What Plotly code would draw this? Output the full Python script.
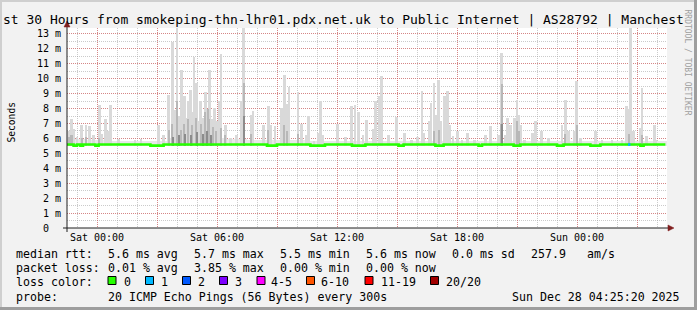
import plotly.graph_objects as go

# ------------------------------------------------------------------ data
title_text = "st 30 Hours from smokeping-thn-lhr01.pdx.net.uk to Public Internet | AS28792 | Manchest"
y_axis_title = "Seconds"
watermark = "RRDTOOL / TOBI OETIKER"

# time axis in hours relative to Sat 00:00
x_tick_hours = [0, 6, 12, 18, 24]
x_tick_labels = ["Sat 00:00", "Sat 06:00", "Sat 12:00", "Sat 18:00", "Sun 00:00"]
y_tick_values = [0, 1, 2, 3, 4, 5, 6, 7, 8, 9, 10, 11, 12, 13]
y_tick_labels = ["0\u00a0\u00a0", "1 m", "2 m", "3 m", "4 m", "5 m", "6 m", "7 m",
                 "8 m", "9 m", "10 m", "11 m", "12 m", "13 m"]

# median rtt (ms), step line
med_t = [-1.5, -1.17, -1.0, -0.83, -0.7, -0.08, 0.08, 2.67, 3.33, 8.5, 9.0, 10.67, 11.4,
         12.75, 13.42, 15.08, 15.33, 16.92, 17.33, 19.08, 19.25, 20.83, 21.17, 23.0, 23.33,
         24.67, 25.17, 27.17, 27.33, 28.42]
med_v = [5.59, 5.52, 5.59, 5.52, 5.59, 5.52, 5.59, 5.52, 5.59, 5.52, 5.59, 5.52, 5.59,
         5.52, 5.59, 5.52, 5.59, 5.52, 5.59, 5.52, 5.59, 5.52, 5.59, 5.52, 5.59,
         5.52, 5.59, 5.52, 5.59, 5.59]
# one interval with 1/20 loss (blue)
loss1_t = [26.55, 26.67]
loss1_v = [5.59, 5.59]

# faint smoke band just above the median, hourly
band_t = [-1, 0, 1, 2, 3, 4, 5, 6, 7, 8, 9, 10, 11, 12, 13, 14, 15, 16, 17, 18, 19,
          20, 21, 22, 23, 24, 25, 26, 27, 28]
band_top = [5.95, 5.9, 5.85, 5.8, 5.85, 6.05, 6.1, 6.0, 5.95, 5.9, 5.9, 5.9, 5.85, 5.8,
            5.85, 5.85, 5.85, 5.8, 5.85, 5.85, 5.8, 5.85, 5.85, 5.8, 5.8, 5.85, 5.8, 5.8,
            5.85, 5.85]

# smoke spikes: outer (max ping) level
light_t = [-1.42, -1.27, -1.15, -1.0, -0.77, -0.55, -0.38, -0.17, 0.12, 0.25, 0.43, 0.57,
           0.67, 1.08, 1.9, 2.2, 3.08, 3.33, 3.58, 3.77, 3.9, 4.0, 4.1, 4.23, 4.37, 4.47,
           4.57, 4.67, 4.75, 4.85, 4.97, 5.05, 5.18, 5.3, 5.42, 5.52, 5.62, 5.75, 5.87,
           5.97, 6.05, 6.12, 6.2, 6.42, 6.67, 6.97, 7.23, 7.33, 7.7, 7.8, 8.33,
           8.57, 8.68, 8.9, 9.22, 9.37, 9.48, 9.6, 10.05, 10.23, 10.47, 10.58, 10.85,
           11.07, 11.17, 11.28, 12.03, 12.43, 12.73, 12.9, 13.07, 13.3, 13.48, 13.83,
           13.93, 14.12, 14.22, 14.57, 14.97, 15.37, 15.72, 16.02, 16.25, 16.35, 16.6,
           16.7, 16.85, 16.97, 17.08, 17.17, 17.37, 17.52, 17.62, 17.8, 18.02, 18.25,
           18.53, 18.87, 19.42, 19.67, 20.08, 20.23, 20.4, 20.52, 20.68, 20.88, 21.0,
           21.08, 21.2, 21.37, 21.78, 21.92, 22.23, 22.57, 23.25, 23.42, 23.58, 23.85,
           23.98, 24.18, 24.92, 25.25, 25.75, 26.25, 26.47, 26.58, 26.67, 26.83, 27.17,
           27.25, 27.47, 27.87, 27.95]
light_top = [6.5, 7.33, 6.66, 6.1, 6.93, 6.93, 6.84, 6.2, 8.27, 6.3, 7.33, 6.48,
             8.27, 5.95, 5.9, 5.95, 6.93, 6.2, 8.93, 12.46, 7.9, 13.6, 7.5, 10.61, 8.82, 7.4,
             8.53, 9.27, 7.8, 11.46, 9.72, 7.2, 8.49, 7.4, 9.1, 8.0, 10.61, 7.3, 8.04,
             7.2, 7.0, 8.49, 11.66, 6.93, 6.0, 6.26, 8.49, 13.6, 7.6, 7.82, 6.93,
             8.2, 6.93, 6.84, 8.04, 10.27, 8.3, 9.43, 9.11, 6.97, 6.26, 7.48, 5.8,
             6.37, 8.53, 6.26, 7.0, 6.1, 8.15, 8.27, 7.77, 6.26, 7.26, 6.66,
             8.49, 8.82, 10.16, 6.26, 7.47, 6.37, 5.9, 6.1, 9.16, 6.37, 7.15,
             8.38, 9.72, 7.6, 9.94, 7.15, 8.82, 9.2, 6.93, 6.15, 6.48, 5.9,
             6.37, 5.9, 6.26, 6.84, 6.26, 11.73, 6.26, 7.36, 6.93, 7.36, 8.6,
             7.6, 6.93, 5.9, 6.37, 7.2, 6.48, 6.05, 6.93, 8.6, 6.48, 6.48,
             9.83, 6.05, 6.48, 5.9, 5.9, 5.9, 8.2, 8.0, 13.6, 6.48, 6.7,
             9.4, 6.15, 6.93, 5.9]

# smoke spikes: inner (darker) level
dark_t = [-1.42, -1.27, -0.77, -0.55, 0.12, 3.6, 3.77, 4.0, 4.2, 4.37, 4.57, 4.75, 4.97,
          5.18, 5.42, 5.55, 5.62, 5.8, 5.95, 6.2, 6.42, 7.33, 7.7, 8.57, 9.37, 9.48,
          10.05, 16.85, 17.08, 20.18, 20.23, 21.0, 21.08, 23.42, 23.98, 26.58, 27.25]
dark_top = [6.1, 6.2, 6.0, 6.1, 6.0, 6.6, 7.0, 8.5, 6.6, 7.0, 7.3, 6.9, 7.4,
            7.0, 7.8, 8.0, 7.3, 6.8, 6.5, 6.7, 6.2, 9.7, 6.3, 6.6, 6.9, 6.5,
            6.3, 6.5, 6.6, 7.0, 9.65, 7.2, 6.5, 6.3, 6.9, 6.3, 6.2]

# smoke core (darkest)
core_t = [3.8, 4.1, 4.4, 4.7, 5.0, 5.3, 5.5, 5.7, 7.33, 20.23]
core_top = [6.1, 6.2, 6.3, 6.2, 6.4, 6.3, 6.5, 6.2, 7.5, 7.0]

smoke_base = 5.52

# legend texts
rtt_label = "median rtt:"
rtt_items = ["5.6 ms avg", "5.7 ms max", "5.5 ms min", "5.6 ms now", "0.0 ms sd", "257.9", "am/s"]
loss_label = "packet loss:"
loss_items = ["0.01 % avg", "3.85 % max", "0.00 % min", "0.00 % now"]
lc_label = "loss color:"
lc_names = ["0", "1", "2", "3", "4-5", "6-10", "11-19", "20/20"]
lc_colors = ["#26ff00", "#00b8ff", "#0059ff", "#7e00ff", "#ff00ff", "#ff5500", "#ff0000", "#a10000"]
probe_label = "probe:"
probe_text = "20 ICMP Echo Pings (56 Bytes) every 300s"
stamp_text = "Sun Dec 28 04:25:20 2025"

# ------------------------------------------------------------------ layout constants
W, H = 697, 310
L, R, T, B = 67, 30, 28, 82
PW, PH = W - L - R, H - T - B
MONO = "DejaVu Sans Mono"


def px(x):
    return (x - L) / PW


def py(y):
    return (H - B - y) / PH


fig = go.Figure()

fig.add_trace(go.Bar(x=band_t, y=[v - smoke_base for v in band_top], base=smoke_base,
                     width=1.0, marker=dict(color="#e8e8e8", line=dict(width=0)),
                     hoverinfo="skip"))
fig.add_trace(go.Bar(x=light_t, y=[v - smoke_base for v in light_top], base=smoke_base,
                     width=0.12, marker=dict(color="#d9d9d9", line=dict(width=0)),
                     hoverinfo="skip"))
fig.add_trace(go.Bar(x=dark_t, y=[v - smoke_base for v in dark_top], base=smoke_base,
                     width=0.1, marker=dict(color="#b8b8b8", line=dict(width=0)),
                     hoverinfo="skip"))
fig.add_trace(go.Bar(x=core_t, y=[v - smoke_base for v in core_top], base=smoke_base,
                     width=0.1, marker=dict(color="#8c8c8c", line=dict(width=0)),
                     hoverinfo="skip"))
fig.add_trace(go.Scatter(x=med_t, y=med_v, mode="lines", line=dict(color=lc_colors[0], width=2.6, shape="hv"),
                         hoverinfo="skip"))
fig.add_trace(go.Scatter(x=loss1_t, y=loss1_v, mode="lines", line=dict(color=lc_colors[1], width=2.6),
                         hoverinfo="skip"))

grid_red = "rgba(222,79,79,0.55)"
grid_gray = "rgba(160,160,160,0.55)"

major_x = [0, 3, 6, 9, 12, 15, 18, 21, 24, 27]
fig.update_xaxes(range=[-1.5, 28.5], tickmode="array", tickvals=major_x,
                 ticktext=[x_tick_labels[x_tick_hours.index(h)] if h in x_tick_hours else "" for h in major_x],
                 showgrid=True, gridcolor=grid_red, gridwidth=1, griddash="1px,1px",
                 minor=dict(tick0=0, dtick=1, showgrid=True, gridcolor=grid_gray, gridwidth=1, griddash="1px,1px"),
                 zeroline=False, showline=False, ticks="",
                 tickfont=dict(family=MONO, size=10, color="black"), ticklabelstandoff=2)
fig.update_yaxes(range=[0, PH / 14.925], tickmode="array", tickvals=y_tick_values, ticktext=y_tick_labels,
                 showgrid=True, gridcolor=grid_red, gridwidth=1, griddash="1px,1px",
                 minor=dict(tick0=0, dtick=0.5, showgrid=True, gridcolor=grid_gray, gridwidth=1, griddash="1px,1px"),
                 zeroline=False, showline=False, ticks="",
                 tickfont=dict(family=MONO, size=10, color="black"), ticklabelstandoff=5)

shapes = []
# frame
shapes += [
    dict(type="rect", xref="paper", yref="paper", x0=px(0), x1=px(W), y0=py(0), y1=py(2), fillcolor="#cfcfcf", line_width=0),
    dict(type="rect", xref="paper", yref="paper", x0=px(0), x1=px(2), y0=py(0), y1=py(H), fillcolor="#cfcfcf", line_width=0),
    dict(type="rect", xref="paper", yref="paper", x0=px(694), x1=px(W), y0=py(0), y1=py(H), fillcolor="#9e9e9e", line_width=0),
    dict(type="rect", xref="paper", yref="paper", x0=px(0), x1=px(W), y0=py(307), y1=py(H), fillcolor="#9e9e9e", line_width=0),
]
# axes + arrows
axis_col = "#1f1f1f"
arrow_col = "#801f1f"
shapes += [
    dict(type="line", xref="paper", yref="paper", x0=px(63), x1=px(669), y0=py(228), y1=py(228),
         line=dict(color=axis_col, width=1)),
    dict(type="line", xref="paper", yref="paper", x0=px(67), x1=px(67), y0=py(232), y1=py(26),
         line=dict(color=axis_col, width=1)),
    dict(type="path", xref="paper", yref="paper",
         path=f"M {px(64)} {py(27)} L {px(70)} {py(27)} L {px(67)} {py(21)} Z",
         fillcolor=arrow_col, line=dict(color=arrow_col, width=0.5)),
    dict(type="path", xref="paper", yref="paper",
         path=f"M {px(668)} {py(225)} L {px(668)} {py(231)} L {px(674)} {py(228)} Z",
         fillcolor=arrow_col, line=dict(color=arrow_col, width=0.5)),
]

ann = []


def text(x, y, s, size=11.6, anchor="left", color="black", angle=0, yanchor="middle"):
    ann.append(dict(x=px(x), y=py(y), xref="paper", yref="paper", text=s, showarrow=False,
                    xanchor=anchor, yanchor=yanchor, textangle=angle,
                    font=dict(family=MONO, size=size, color=color), borderpad=0))


text(1.5, 19, title_text, size=13)
text(10.5, 123, y_axis_title, size=9.6, anchor="center", angle=-90)
text(687.5, 62, watermark, size=8, anchor="center", color="#a0a0a0", angle=90)

rtt_x = [106.5, 192.5, 278.5, 365.3, 451, 530.3, 586]
text(15.3, 254, rtt_label)
for xx, s in zip(rtt_x, rtt_items):
    text(xx, 254, s)
loss_x = [106.5, 192.5, 278.5, 365.3]
text(15.3, 268, loss_label)
for xx, s in zip(loss_x, loss_items):
    text(xx, 268, s)

text(15.3, 281.7, lc_label)
box_x = [108, 145.5, 182.5, 219.5, 257, 306.5, 365, 430.5]
lab_x = [122.6, 160, 196.6, 233.6, 270, 320.3, 380, 445]
for bx, lx, nm, col in zip(box_x, lab_x, lc_names, lc_colors):
    shapes.append(dict(type="rect", xref="paper", yref="paper", x0=px(bx), x1=px(bx + 8),
                       y0=py(276.5), y1=py(284.5), fillcolor=col, line=dict(color="black", width=1)))
    text(lx, 281.7, nm)

text(15.3, 296.5, probe_label)
text(106.5, 296.5, probe_text)
text(680.5, 296.5, stamp_text, anchor="right")

fig.update_layout(width=W, height=H, margin=dict(l=L, r=R, t=T, b=B, pad=0),
                  paper_bgcolor="#f2f2f2", plot_bgcolor="white",
                  barmode="overlay", bargap=0, showlegend=False,
                  shapes=shapes, annotations=ann)

fig.write_html("out.html")
